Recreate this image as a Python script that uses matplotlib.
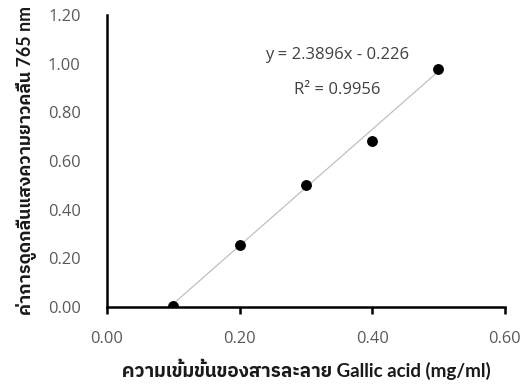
import matplotlib
matplotlib.use("Agg")
import matplotlib.pyplot as plt

FONT = ["Open Sans", "Noto Sans Thai", "DejaVu Sans"]
BOLD_FONT = ["Lato", "IBM Plex Sans Thai", "Sarabun", "DejaVu Sans"]
plt.rcParams["font.family"] = FONT

conc = [0.1, 0.2, 0.3, 0.4, 0.5]
absorb = [0.004, 0.255, 0.502, 0.683, 0.980]
slope, intercept = 2.3896, -0.226
x_ticks = [0.0, 0.2, 0.4, 0.6]
y_ticks = [0.0, 0.2, 0.4, 0.6, 0.8, 1.0, 1.2]

fig = plt.figure(figsize=(5.22, 3.87), dpi=100)
ax = fig.add_axes([0.205, 0.207, 0.762, 0.754])

# linear trendline over the measured range
fit_x = [conc[0], conc[-1]]
fit_y = [slope * v + intercept for v in fit_x]
ax.plot(fit_x, fit_y, color="#c0c0c0", linewidth=0.9, zorder=2)
ax.plot(conc, absorb, "o", color="black", markersize=6.8, zorder=3)

ax.set_xlim(0, 0.6)
ax.set_ylim(0, 1.2)
ax.set_xticks(x_ticks)
ax.set_yticks(y_ticks)
ax.set_xticklabels([f"{v:.2f}" for v in x_ticks])
ax.set_yticklabels([f"{v:.2f}" for v in y_ticks])
ax.tick_params(axis="x", length=5, width=1.8, color="black", labelsize=11.8,
               labelcolor="#595959", pad=12)
ax.tick_params(axis="y", length=0, labelsize=11.8, labelcolor="#595959", pad=19)
for side in ["top", "right"]:
    ax.spines[side].set_visible(False)
for side in ["left", "bottom"]:
    ax.spines[side].set_linewidth(1.8)
    ax.spines[side].set_color("black")

ax.set_xlabel("ความเข้มข้นของสารละลาย Gallic acid (mg/ml)", fontsize=13.5,
              fontweight="bold", family=BOLD_FONT, color="#1a1a1a", labelpad=9)
ax.set_ylabel("ค่าการดูดกลืนแสงความยาวคลื่น 765 nm", fontsize=12.8,
              fontweight="bold", family=BOLD_FONT, color="#1a1a1a", labelpad=8)

ax.text(0.347, 1.036, "y = 2.3896x - 0.226", ha="center", va="center",
        fontsize=12, color="#404040")
ax.text(0.347, 0.892, "R² = 0.9956", ha="center", va="center",
        fontsize=12, color="#404040")

fig.savefig("out.png")
